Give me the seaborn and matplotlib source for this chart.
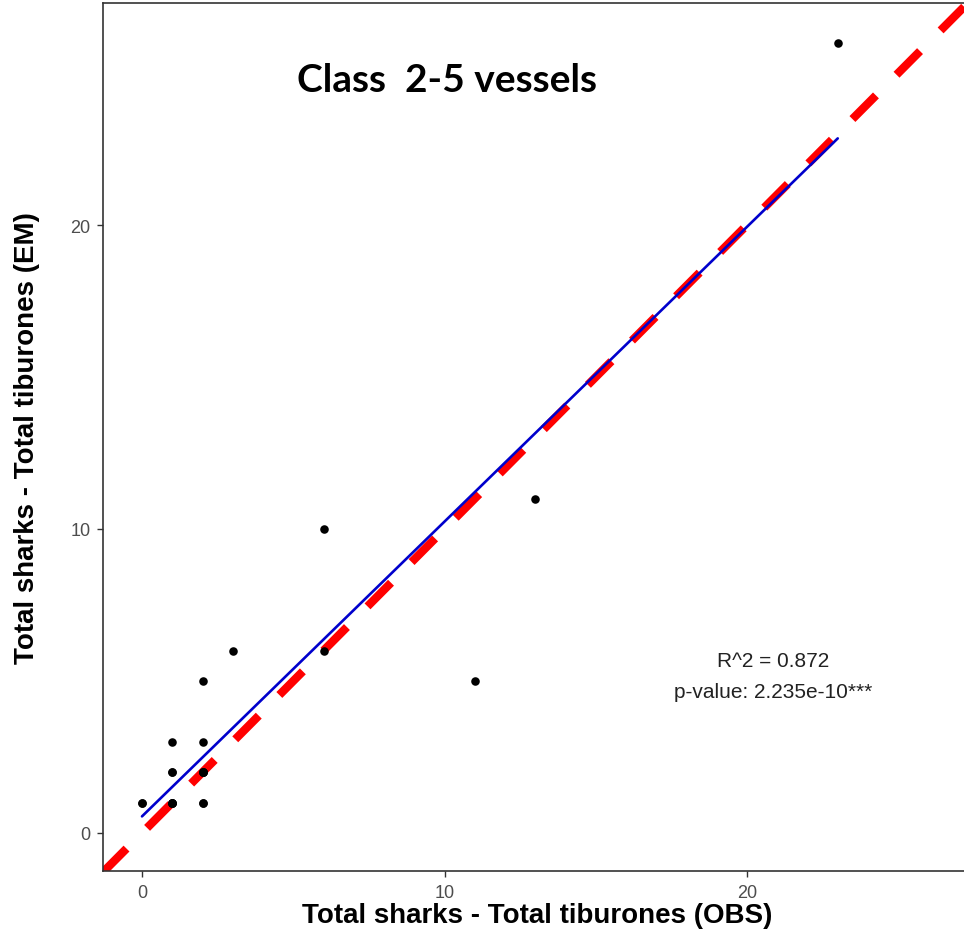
import numpy as np
import pandas as pd
import matplotlib
matplotlib.use("Agg")
import matplotlib.pyplot as plt
import seaborn as sns

# Data (observer vs electronic monitoring counts), duplicates overlap
obs = [0, 0, 1, 1, 1, 1, 1, 1, 1, 2, 2, 2, 2, 2, 2, 2, 2, 3, 6, 6, 11, 13, 23]
em  = [1, 1, 1, 1, 1, 2, 2, 3, 1, 1, 2, 2, 2, 2, 3, 5, 1, 6, 6, 10, 5, 11, 26]
x_ticks = [0, 10, 20]
y_ticks = [0, 10, 20]
title = "Class  2-5 vessels"
stats_lines = ["R^2 = 0.872", "p-value: 2.235e-10***"]

df = pd.DataFrame({"OBS": obs, "EM": em})

sns.set_theme(style="white")
plt.rcParams['font.family'] = ['Liberation Sans', 'DejaVu Sans']

fig = plt.figure(figsize=(9.64, 9.37), dpi=100)
ax = fig.add_axes([103/964, 1-872/937, (971-103)/964, (872-4)/937])

xlim = ((103-142)/30.25, (971-142)/30.25)
ylim = ((834-872)/30.4, (834-4)/30.4)

# 1:1 reference line
ref = np.array([min(xlim[0], ylim[0]), max(xlim[1], ylim[1]) + 0.5])
ax.plot(ref, ref, color="#FF0000", lw=6.0, dashes=(4.0, 3.5),
        solid_capstyle="butt", dash_capstyle="butt", zorder=2)

sns.regplot(data=df, x="OBS", y="EM", ax=ax, ci=None, truncate=True,
            scatter_kws=dict(s=38, color="black", alpha=1, zorder=3, linewidths=0),
            line_kws=dict(color="#0000CC", lw=1.9, zorder=4))

ax.set_xlim(*xlim)
ax.set_ylim(*ylim)
ax.set_xticks(x_ticks)
ax.set_yticks(y_ticks)
ax.tick_params(axis="both", which="major", length=4, width=1, color="#333333",
               labelsize=13, labelcolor="#4D4D4D", pad=5, direction="out",
               bottom=True, left=True)
for s in ["left", "bottom", "top"]:
    ax.spines[s].set_color("#333333")
    ax.spines[s].set_linewidth(1.2)
ax.spines["right"].set_visible(False)

ax.set_xlabel("Total sharks - Total tiburones (OBS)", fontsize=20, fontweight="bold", color="black")
ax.set_ylabel("Total sharks - Total tiburones (EM)", fontsize=20, fontweight="bold", color="black")
ax.xaxis.set_label_coords(0.5, (872-916)/868)
ax.yaxis.set_label_coords((27-103)/868, 0.5)
ax.xaxis.label.set_va("center")
ax.yaxis.label.set_va("center")

ax.text(20.86, 5.66, stats_lines[0], ha="center", va="center", fontsize=15, color="#222222")
ax.text(20.86, 4.64, stats_lines[1], ha="center", va="center", fontsize=15, color="#222222")

fig.text(447/964, 1-80/937, title, ha="center", va="center", fontsize=28,
         fontweight="bold", family=["Lato", "DejaVu Sans"], color="black")

fig.savefig("out.png", dpi=100)
